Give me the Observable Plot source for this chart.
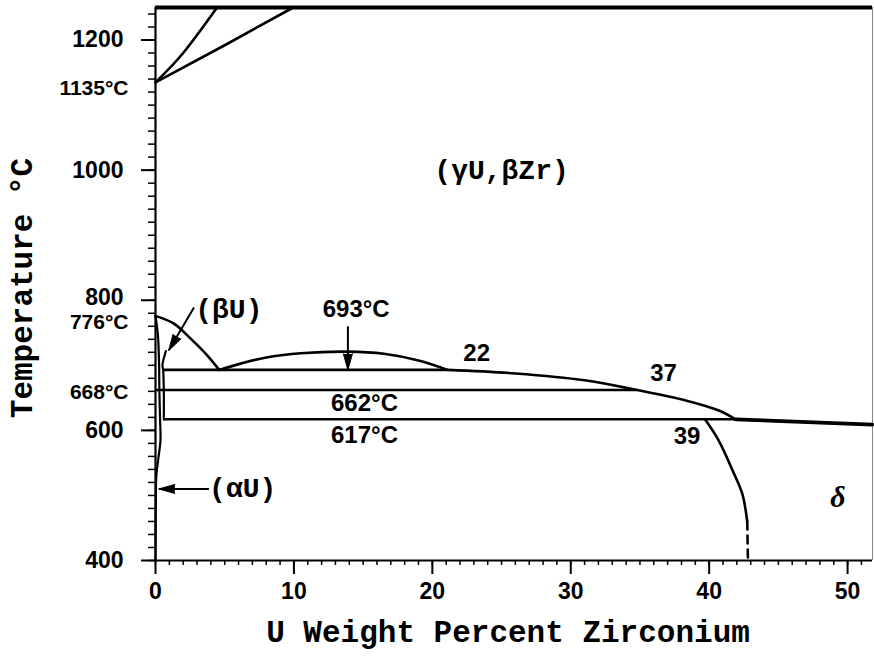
<!DOCTYPE html>
<html>
<head>
<meta charset="utf-8">
<script src="https://cdn.jsdelivr.net/npm/d3@7"></script>
<script src="https://cdn.jsdelivr.net/npm/@observablehq/plot@0.6"></script>
<style>
  html, body { margin: 0; padding: 0; background: #fff; }
  #chart svg { display: block; }
  #chart svg [aria-label$="tick label"] { font-weight: bold; }
</style>
</head>
<body>
<div id="chart"></div>
<script>
// U–Zr phase diagram, uranium-rich side: temperature (°C) against weight percent Zr.

// Axis ticks
const xTicks = [0, 10, 20, 30, 40, 50];
const yTicks = [400, 600, 800, 1000, 1200];

// Phase boundaries, each as [wt% Zr, °C]
const liquidus = [[0, 1135], [2, 1180], [4.45, 1250]];
const solidus = [[0, 1135], [5, 1192], [9.95, 1250]];
const gammaBetaBoundary = [[0, 776], [1.33, 764], [2.54, 741], [3.75, 715], [4.6, 693]];
const miscibilityGap = [[4.6, 693], [6.2, 703], [8.1, 712.5], [10.5, 718.6], [13.9, 721], [16.5, 717.7], [19, 707.4], [21.1, 693]];
const gamma2Boundary = [[21.1, 693], [26, 687.5], [31, 677], [34.8, 662], [38.3, 646], [40.7, 630.5], [41.9, 617]];
const deltaSolvus = [[39.7, 617], [40.7, 584], [41.7, 538], [42.4, 502], [42.75, 460]];
const deltaSolvusUncertain = [[42.75, 460], [42.8, 400]];
const deltaUpper = [[41.9, 617], [51.8, 609]];
const betaUSolvusLeft = [[0, 776], [0.18, 745], [0.26, 700], [0.28, 662], [0.33, 617], [0.36, 585], [0.2, 556], [0.06, 530], [0.02, 480], [0, 400]];
const betaUSolvusRight = [[0.75, 722], [0.5, 700], [0.55, 693], [0.6, 662], [0.6, 617]];

// Invariant isotherms (°C) with their composition spans
const isotherms = [
  {t: 693, from: 0.6, to: 21.1},
  {t: 662, from: 0, to: 34.8},
  {t: 617, from: 0.6, to: 41.9}
];

// Special temperatures marked on the temperature axis
const axisTemps = [
  {t: 1135, label: "1135°C"},
  {t: 776, label: "776°C"},
  {t: 668, label: "668°C"}
];

// Phase field names
const phaseLabels = [
  {x: 25, t: 1000, label: "(γU,βZr)"},
  {x: 5.3, t: 787, label: "(βU)"},
  {x: 6.3, t: 511, label: "(αU)"}
];
const deltaLabel = [{x: 49.3, t: 497, label: "δ"}];

// Temperatures and compositions written on the diagram
const valueLabels = [
  {x: 14.5, t: 786, label: "693°C"},
  {x: 15.1, t: 641, label: "662°C"},
  {x: 15.1, t: 592, label: "617°C"},
  {x: 23.2, t: 718, label: "22"},
  {x: 36.7, t: 687, label: "37"},
  {x: 38.4, t: 591, label: "39"}
];

// Pointer arrows: from a label to the feature it names
const pointers = [
  {x1: 2.78, t1: 789, x2: 0.96, t2: 723},
  {x1: 13.9, t1: 760, x2: 13.9, t2: 693},
  {x1: 3.86, t1: 510, x2: 0.24, t2: 510}
];

const width = 874, height = 666;
const marginLeft = 155, marginRight = 2, marginTop = 7, marginBottom = 106;
const xDomain = [0, 51.8], yDomain = [400, 1250];

const xMinor = d3.range(0, 52, 1);
const yMinor = d3.range(400, 1250, 20);

// Screen-space direction of each pointer, for orienting its head
const sx = d3.scaleLinear(xDomain, [marginLeft, width - marginRight]);
const sy = d3.scaleLinear(yDomain, [height - marginBottom, marginTop]);
const heading = d => Math.atan2(sx(d.x2) - sx(d.x1), -(sy(d.t2) - sy(d.t1))) * 180 / Math.PI;

const px = d => d[0], py = d => d[1];
const curve = (data, extra = {}) =>
  Plot.line(data, {x: px, y: py, curve: "catmull-rom", stroke: "#000", strokeWidth: 2.6, ...extra});

const chart = Plot.plot({
  width, height, marginLeft, marginRight, marginTop, marginBottom,
  x: {domain: xDomain},
  y: {domain: yDomain},
  style: {fontFamily: "Liberation Sans", color: "#000", background: "#fff", overflow: "visible"},
  marks: [
    // axes: minor then major ticks
    Plot.axisX({ticks: xMinor, tickSize: 5, tickFormat: () => "", strokeWidth: 1.5, label: null}),
    Plot.axisX({ticks: xTicks, tickSize: 14, tickPadding: 8, tickFormat: d => String(d),
      fontSize: 23, fontWeight: "bold", strokeWidth: 2, label: null}),
    Plot.axisY({ticks: yMinor, tickSize: 7, tickFormat: () => "", strokeWidth: 1.5, label: null}),
    Plot.axisY({ticks: yTicks, tickSize: 14, tickPadding: 18, tickFormat: d => String(d),
      fontSize: 23, fontWeight: "bold", strokeWidth: 2, label: null}),

    // frame
    Plot.ruleX([xDomain[0]], {strokeWidth: 2.2}),
    Plot.ruleY([yDomain[0]], {strokeWidth: 2.2}),
    Plot.ruleY([yDomain[1]], {strokeWidth: 4}),
    Plot.ruleX([xDomain[1]], {stroke: "#888", strokeWidth: 1}),

    // special temperatures on the axis
    Plot.text(axisTemps, {x: () => 0, y: "t", text: "label", textAnchor: "end", dx: -27, dy: 6,
      fontSize: 21, fontWeight: "bold"}),

    // phase boundaries
    curve(liquidus, {curve: "natural"}),
    curve(solidus, {curve: "natural"}),
    curve(gammaBetaBoundary),
    curve(miscibilityGap),
    curve(gamma2Boundary),
    curve(deltaSolvus),
    curve(deltaSolvusUncertain, {strokeDasharray: "8,6", curve: "linear"}),
    curve(deltaUpper, {strokeWidth: 3.8, curve: "linear"}),
    curve(betaUSolvusLeft, {strokeWidth: 2.2}),
    curve(betaUSolvusRight, {strokeWidth: 2.2}),
    Plot.ruleY(isotherms, {y: "t", x1: "from", x2: "to", stroke: "#000", strokeWidth: 2.6}),

    // pointers
    Plot.link(pointers, {x1: "x1", y1: "t1", x2: "x2", y2: "t2", stroke: "#000", strokeWidth: 2}),
    Plot.vector(pointers, {x: "x2", y: "t2", rotate: heading, anchor: "end", shape: "spike",
      length: 16, r: 4.5, fill: "#000", stroke: "#000", strokeWidth: 1}),

    // labels
    Plot.text(phaseLabels, {x: "x", y: "t", text: "label", fontFamily: "Liberation Mono",
      fontWeight: "bold", fontSize: 28}),
    Plot.text(deltaLabel, {x: "x", y: "t", text: "label", fontFamily: "Liberation Serif",
      fontStyle: "italic", fontWeight: "bold", fontSize: 30}),
    Plot.text(valueLabels, {x: "x", y: "t", text: "label", fontSize: 24, fontWeight: "bold"}),

    // axis titles
    Plot.text(["U Weight Percent Zirconium"], {frameAnchor: "bottom", textAnchor: "middle",
      lineAnchor: "middle", dx: -6, dy: 72, fontFamily: "Liberation Mono", fontWeight: "bold", fontSize: 31}),
    Plot.text(["Temperature °C"], {frameAnchor: "left", textAnchor: "middle", lineAnchor: "middle",
      rotate: -90, dx: -133, dy: 4, fontFamily: "Liberation Mono", fontWeight: "bold", fontSize: 31})
  ]
});

// nudge the 800 tick label up slightly so it clears the 776°C mark beneath it
chart.querySelectorAll('[aria-label="y-axis tick label"] text').forEach(t => {
  if (t.textContent === "800") t.setAttribute("dy", (parseFloat(t.getAttribute("dy")) || 0) - 3 + "");
});

document.getElementById("chart").append(chart);
</script>
</body>
</html>
